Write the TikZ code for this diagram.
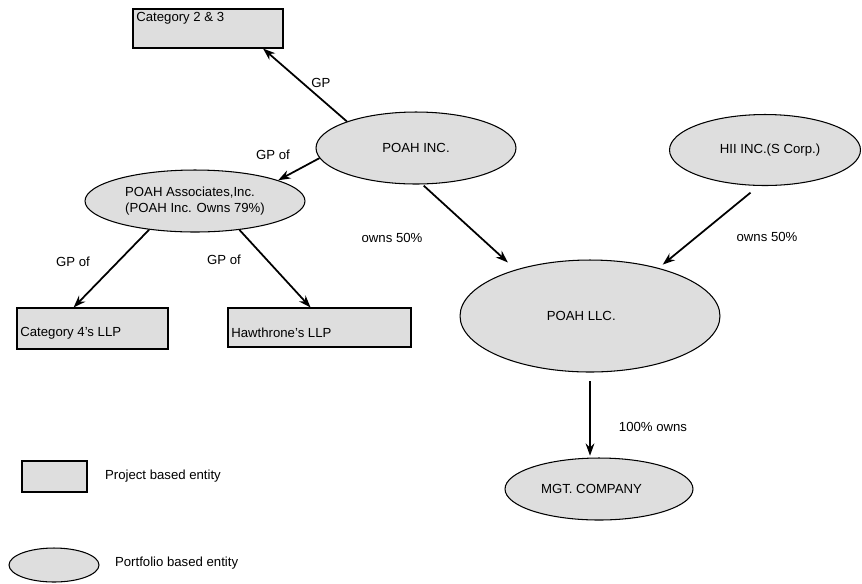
\documentclass[tikz,border=0pt]{standalone}
\usepackage{fontspec}
\setmainfont{Liberation Sans}
\usetikzlibrary{shapes.geometric,arrows.meta}

\begin{document}
\begin{tikzpicture}[x=0.02cm, y=-0.02cm, font=\fontsize{7.5}{9}\selectfont,
	projbox/.style={draw=black, fill=entityGray, line width=0.6pt, rectangle, inner sep=0pt},
	portoval/.style={draw=black, fill=entityGray, line width=0.6pt, ellipse, inner sep=0pt, align=center},
	link/.style={-{Stealth[length=7pt,width=5pt]}, line width=1pt},
	tag/.style={inner sep=1pt}]
		
		% Define colors
		
		\definecolor{entityGray}{RGB}{222,222,222}
		
		% Fix the size of the page
		
		\useasboundingbox (0,0) rectangle (862,583);
		
		% Project based entities
		
		\node[projbox, minimum width=3cm, minimum height=0.78cm, label={[anchor=north west, inner sep=2pt]north west:Category 2 \& 3}] (cat23) at (208,28.5) {};
		
		\node[projbox, minimum width=3.02cm, minimum height=0.82cm, label={[anchor=west, inner sep=2pt, yshift=-0.09cm]west:Category 4's LLP}] (cat4) at (92.5,328.5) {};
		
		\node[projbox, minimum width=3.66cm, minimum height=0.78cm, label={[anchor=west, inner sep=2pt, yshift=-0.1cm]west:Hawthrone's LLP}] (haw) at (319.5,327.5) {};
		
		% Portfolio based entities
		
		\node[portoval, minimum width=4cm, minimum height=1.44cm] (pinc) at (416,148) {POAH INC.};
		
		\node[portoval, minimum width=4.4cm, minimum height=1.24cm, align=left] (assoc) at (195,201) {POAH Associates,Inc.\\(POAH Inc. Owns 79\%)};
		
		\node[portoval, minimum width=3.82cm, minimum height=1.42cm] (hii) at (765,150) {\hspace{0.2cm}HII INC.(S Corp.)};
		
		\node[portoval, minimum width=5.2cm, minimum height=2.24cm] (llc) at (590,316) {POAH LLC.\hspace{0.35cm}};
		
		\node[portoval, minimum width=3.76cm, minimum height=1.24cm] (mgt) at (599,489) {MGT. COMPANY\hspace{0.3cm}};
		
		% Ownership and GP arrows
		
		\draw[link] (pinc.159) -- (cat23.-20);
		
		\draw[link] (pinc.186) -- (assoc.14);
		
		\draw[link] (assoc.212) -- (cat4.132);
		
		\draw[link] (assoc.-33) -- (haw.114);
		
		\draw[link, shorten <=1pt, shorten >=6pt] (pinc.-80) -- (llc.148);
		
		\draw[link, shorten <=6pt, shorten >=3pt] (hii.-100) -- (llc.35);
		
		\draw[link, shorten <=5pt, shorten >=1pt] (llc.south) -- (llc.south |- mgt.north);
		
		% Arrow labels
		
		\node[tag] (tGP) at (321,83) {GP};
		
		\node[tag] (tGPof) at (273,155) {GP of};
		
		\node[tag] (tGPcat) at (73,262) {GP of};
		
		\node[tag] (tGPhaw) at (224,260) {GP of};
		
		\node[tag] (tOwnsP) at (392,238) {owns 50\%};
		
		\node[tag] (tOwnsH) at (767,237) {owns 50\%};
		
		\node[tag] (tFull) at (653,427) {100\% owns};
		
		% Legend
		
		\node[projbox, minimum width=1.3cm, minimum height=0.62cm] (keybox) at (54.5,476.5) {};
		
		\node[tag, anchor=west] (keyboxtxt) at (103,476) {Project based entity};
		
		\node[portoval, minimum width=1.8cm, minimum height=0.68cm] (keyoval) at (54,565) {};
		
		\node[tag, anchor=west] (keyovaltxt) at (113,563) {Portfolio based entity};
		
	\end{tikzpicture}
\end{document}
